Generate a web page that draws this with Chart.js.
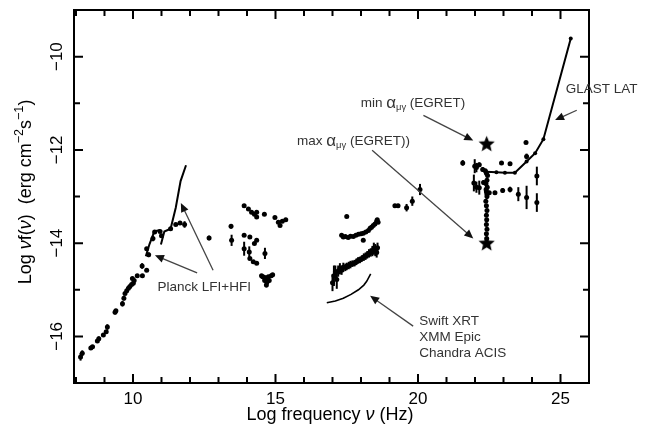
<!DOCTYPE html>
<html>
<head>
<meta charset="utf-8">
<script src="https://cdn.jsdelivr.net/npm/chart.js@4/dist/chart.umd.min.js"></script>
<style>
  html, body { margin: 0; padding: 0; background: #fff; }
</style>
</head>
<body>
<canvas id="sed" width="654" height="434"></canvas>
<script>
// SED of the source: log nu vs log nu f(nu)

// axes
const xMin = 7.93, xMax = 26.0;
const yMin = -17, yMax = -9;
const xTickLabels = [10, 15, 20, 25];
const yTickLabels = [-16, -14, -12, -10];

// radio / mm points
const radioX = [8.16, 8.22, 8.52, 8.58, 8.75, 8.80, 8.96, 9.06, 9.10, 9.37, 9.40, 9.63, 9.68, 9.72, 9.78, 9.84, 9.89, 9.95, 10.01, 10.04, 9.98, 10.15, 10.33, 10.32, 10.48, 10.55, 10.48, 10.70, 10.76, 10.95, 11.00, 11.32, 11.50, 11.65, 11.81];
const radioY = [-16.44, -16.36, -16.25, -16.22, -16.10, -16.05, -15.97, -15.90, -15.80, -15.48, -15.45, -15.30, -15.18, -15.08, -15.02, -14.97, -14.93, -14.89, -14.86, -14.80, -14.76, -14.70, -14.70, -14.49, -14.58, -14.25, -14.12, -13.90, -13.76, -13.75, -13.84, -13.69, -13.60, -13.57, -13.60];
const radioErr = [0.08, 0.06, 0, 0, 0, 0.05, 0, 0, 0.06, 0.05, 0, 0.06, 0.05, 0, 0, 0, 0, 0, 0, 0, 0, 0, 0, 0.06, 0, 0.05, 0, 0.06, 0, 0, 0, 0, 0, 0, 0.07];

// Planck sensitivity curves
const planckLfiX = [10.45, 10.58, 10.75, 10.95];
const planckLfiY = [-14.28, -14.02, -13.75, -13.72];
const planckHfiX = [10.98, 11.10, 11.32, 11.50, 11.67, 11.86];
const planckHfiY = [-14.03, -13.75, -13.69, -13.24, -12.67, -12.33];

// IR / optical / UV points
const optX = [12.67, 13.44, 13.46, 13.90, 14.05, 14.16, 14.26, 14.34, 14.34, 14.61, 14.98, 15.10, 15.24, 15.36, 15.16, 13.90, 14.10, 13.90, 14.08, 14.26, 14.34, 14.10, 14.22, 14.34, 14.63, 14.51, 14.60, 14.68, 14.75, 14.85, 14.62, 14.70, 14.78, 14.68, 14.55, 14.90];
const optY = [-13.89, -13.64, -13.94, -13.20, -13.27, -13.34, -13.38, -13.34, -13.44, -13.38, -13.45, -13.55, -13.53, -13.50, -13.62, -13.83, -13.87, -14.12, -14.19, -14.01, -13.94, -14.33, -14.40, -14.43, -14.22, -14.70, -14.73, -14.75, -14.72, -14.70, -14.80, -14.84, -14.80, -14.90, -14.72, -14.68];
const optErr = [0.05, 0.05, 0.12, 0, 0, 0, 0, 0, 0, 0, 0, 0, 0, 0, 0, 0, 0, 0.15, 0.12, 0, 0, 0, 0, 0, 0.12, 0, 0, 0, 0, 0, 0, 0, 0, 0.05, 0, 0];

// X-ray, upper state
const xhiX = [17.50, 17.32, 17.38, 17.45, 17.55, 17.63, 17.73, 17.82, 17.91, 18.00, 18.08, 18.17, 18.26, 18.32, 18.37, 18.43, 18.49, 18.55, 18.57, 18.60, 18.08];
const xhiY = [-13.43, -13.83, -13.87, -13.86, -13.88, -13.85, -13.86, -13.83, -13.81, -13.80, -13.79, -13.76, -13.73, -13.68, -13.66, -13.62, -13.59, -13.53, -13.50, -13.55, -13.94];

// X-ray, lower state
const xloX = [17.00, 17.05, 17.10, 17.15, 17.20, 17.26, 17.32, 17.38, 17.45, 17.50, 17.57, 17.63, 17.70, 17.77, 17.84, 17.90, 17.96, 18.03, 18.10, 18.16, 18.22, 18.28, 18.34, 18.40, 18.45, 18.50, 18.55, 18.58];
const xloY = [-14.85, -14.70, -14.62, -14.78, -14.60, -14.55, -14.58, -14.52, -14.52, -14.50, -14.48, -14.46, -14.44, -14.43, -14.40, -14.37, -14.36, -14.33, -14.30, -14.28, -14.25, -14.22, -14.20, -14.17, -14.12, -14.15, -14.20, -14.10];
const xloErr = [0.18, 0.22, 0.14, 0.20, 0.12, 0.12, 0.10, 0.10, 0.08, 0.08, 0.08, 0.08, 0.07, 0.07, 0.07, 0.07, 0.07, 0.07, 0.08, 0.08, 0.08, 0.09, 0.09, 0.11, 0.13, 0.13, 0.11, 0.11];

// Swift XRT / XMM / Chandra sensitivity
const xsensX = [16.80, 17.10, 17.38, 17.65, 17.91, 18.10, 18.20, 18.34];
const xsensY = [-15.28, -15.24, -15.18, -15.10, -15.00, -14.90, -14.82, -14.66];

// hard X-ray points
const hxX = [19.19, 19.30, 19.60, 19.80, 20.07];
const hxY = [-13.20, -13.20, -13.24, -13.10, -12.85];
const hxErr = [0.04, 0.04, 0.08, 0.10, 0.12];

// gamma-ray points
const gamX = [21.57, 21.99, 22.05, 22.15, 22.27, 21.96, 22.05, 22.15, 22.30, 22.50, 22.70, 22.97, 23.23, 23.52, 23.81, 24.17, 24.17, 22.93, 23.23, 23.79, 23.81];
const gamY = [-12.28, -12.35, -12.38, -12.32, -12.42, -12.71, -12.80, -12.81, -12.70, -12.92, -12.92, -12.87, -12.85, -12.95, -13.02, -12.56, -13.13, -12.28, -12.30, -11.84, -12.14];
const gamErr = [0.06, 0.15, 0.10, 0.05, 0.05, 0.18, 0.12, 0.15, 0.05, 0, 0, 0.05, 0.06, 0.15, 0.25, 0.2, 0.2, 0, 0, 0, 0.06];

// EGRET vertical chain
const chainX = [22.36, 22.40, 22.44, 22.42, 22.38, 22.43, 22.40, 22.42, 22.38, 22.40, 22.42, 22.40, 22.41, 22.40, 22.42, 22.40, 22.41, 22.39, 22.42];
const chainY = [-12.45, -12.50, -12.55, -12.65, -12.72, -12.80, -12.90, -13.00, -13.10, -13.20, -13.30, -13.40, -13.50, -13.60, -13.70, -13.80, -13.90, -12.85, -12.95];
const chainErr = [0, 0, 0, 0.06, 0.05, 0.08, 0.05, 0.04, 0.04, 0.04, 0.04, 0.04, 0.04, 0.04, 0.04, 0.04, 0.04, 0.1, 0.1];

// GLAST LAT sensitivity
const glastX = [22.39, 22.75, 23.05, 23.40, 23.81, 24.11, 24.40, 25.36];
const glastY = [-12.47, -12.48, -12.49, -12.49, -12.25, -12.07, -11.77, -9.61];

// EGRET min / max alpha stars
const starX = [22.41, 22.41];
const starY = [-11.88, -14.01];

// arrows: [fromX, fromY, toX, toY]
const arrows = [
  [20.19, -11.26, 21.94, -11.80],
  [18.39, -12.01, 21.94, -13.90],
  [25.57, -11.15, 24.81, -11.36],
  [19.83, -15.78, 18.32, -15.13],
  [12.81, -14.58, 11.68, -13.14],
  [12.25, -14.64, 10.77, -14.26]
];

function pts(xs, ys) {
  return xs.map((x, i) => ({ x: x, y: ys[i] }));
}

const FONT = '"Liberation Sans", Arial, Helvetica, sans-serif';

function makeStar(r) {
  const c = document.createElement('canvas');
  const s = Math.ceil(r * 2 + 2);
  c.width = s; c.height = s;
  const g = c.getContext('2d');
  g.fillStyle = '#000';
  g.beginPath();
  for (let i = 0; i < 10; i++) {
    const rr = i % 2 === 0 ? r : r * 0.45;
    const a = -Math.PI / 2 + i * Math.PI / 5;
    const px = s / 2 + rr * Math.cos(a), py = s / 2 + rr * Math.sin(a);
    if (i === 0) g.moveTo(px, py); else g.lineTo(px, py);
  }
  g.closePath();
  g.fill();
  return c;
}
const starImg = makeStar(8.5);

function dots(data, err) {
  return { data: data, yErr: err, pointRadius: 2.5, pointBackgroundColor: '#000', pointBorderWidth: 0, showLine: false };
}
function curve(data, r) {
  return { data: data, showLine: true, borderColor: '#000', borderWidth: 2, pointRadius: r || 0, pointBackgroundColor: '#000', pointBorderWidth: 0, tension: 0 };
}

// rich text: parts = [text, sizeScale, dy, italic]
function drawRich(ctx, parts, x, y, size, align) {
  let w = 0;
  const font = p => (p[3] ? 'italic ' : '') + (size * (p[1] || 1)) + 'px ' + FONT;
  parts.forEach(p => { ctx.font = font(p); w += ctx.measureText(p[0]).width; });
  let cx = align === 'right' ? x - w : align === 'center' ? x - w / 2 : x;
  parts.forEach(p => {
    ctx.font = font(p);
    ctx.fillText(p[0], cx, y + (p[2] || 0));
    cx += ctx.measureText(p[0]).width;
  });
}

const axesPlugin = {
  id: 'axesPlugin',
  afterDatasetsDraw(chart) {
    const ctx = chart.ctx;
    const xs = chart.scales.x, ys = chart.scales.y;

    // error bars
    ctx.save();
    ctx.strokeStyle = '#000';
    ctx.lineWidth = 2;
    chart.data.datasets.forEach(ds => {
      if (!ds.yErr) return;
      ds.data.forEach((p, i) => {
        const e = ds.yErr[i];
        if (!e) return;
        const px = xs.getPixelForValue(p.x);
        ctx.beginPath();
        ctx.moveTo(px, ys.getPixelForValue(p.y - e));
        ctx.lineTo(px, ys.getPixelForValue(p.y + e));
        ctx.stroke();
      });
    });
    ctx.restore();
  },
  afterDraw(chart) {
    const ctx = chart.ctx;
    const xs = chart.scales.x, ys = chart.scales.y;
    const a = chart.chartArea;
    ctx.save();

    // arrows
    arrows.forEach(ar => {
      const x0 = xs.getPixelForValue(ar[0]), y0 = ys.getPixelForValue(ar[1]);
      const x1 = xs.getPixelForValue(ar[2]), y1 = ys.getPixelForValue(ar[3]);
      const ang = Math.atan2(y1 - y0, x1 - x0);
      const hl = 9, hw = 4;
      ctx.strokeStyle = '#444';
      ctx.lineWidth = 1.3;
      ctx.beginPath();
      ctx.moveTo(x0, y0);
      ctx.lineTo(x1 - Math.cos(ang) * hl * 0.8, y1 - Math.sin(ang) * hl * 0.8);
      ctx.stroke();
      ctx.fillStyle = '#111';
      ctx.beginPath();
      ctx.moveTo(x1, y1);
      ctx.lineTo(x1 - Math.cos(ang) * hl - Math.sin(ang) * hw, y1 - Math.sin(ang) * hl + Math.cos(ang) * hw);
      ctx.lineTo(x1 - Math.cos(ang) * hl + Math.sin(ang) * hw, y1 - Math.sin(ang) * hl - Math.cos(ang) * hw);
      ctx.closePath();
      ctx.fill();
    });

    // frame
    ctx.strokeStyle = '#000';
    ctx.lineWidth = 2;
    ctx.strokeRect(a.left, a.top, a.right - a.left, a.bottom - a.top);

    // ticks (inward, on all four sides)
    for (let v = 8; v <= 25; v++) {
      const px = xs.getPixelForValue(v);
      const len = v % 5 === 0 ? 9 : 6;
      ctx.beginPath();
      ctx.moveTo(px, a.bottom); ctx.lineTo(px, a.bottom - len);
      ctx.moveTo(px, a.top); ctx.lineTo(px, a.top + len);
      ctx.stroke();
    }
    for (let v = -16; v <= -10; v++) {
      const py = ys.getPixelForValue(v);
      const len = v % 2 === 0 ? 9 : 6;
      ctx.beginPath();
      ctx.moveTo(a.left, py); ctx.lineTo(a.left + len, py);
      ctx.moveTo(a.right, py); ctx.lineTo(a.right - len, py);
      ctx.stroke();
    }

    // tick labels
    ctx.fillStyle = '#000';
    ctx.font = '17px ' + FONT;
    ctx.textBaseline = 'middle';
    ctx.textAlign = 'center';
    xTickLabels.forEach(v => ctx.fillText(String(v), xs.getPixelForValue(v), 399));
    yTickLabels.forEach(v => {
      ctx.save();
      ctx.translate(57, ys.getPixelForValue(v));
      ctx.rotate(-Math.PI / 2);
      ctx.fillText('\u2212' + Math.abs(v), 0, 0);
      ctx.restore();
    });

    // axis titles
    ctx.textAlign = 'left';
    drawRich(ctx, [['Log frequency '], ['\u03bd', 1, 0, true], [' (Hz)']], 330, 415, 18, 'center');
    ctx.save();
    ctx.translate(26, 192);
    ctx.rotate(-Math.PI / 2);
    drawRich(ctx, [['Log '], ['\u03bd', 1, 0, true], ['f('], ['\u03bd', 1, 0, true], [')  (erg cm'], ['\u22122', 0.7, -6], ['s'], ['\u22121', 0.7, -6], [')']], 0, 0, 18, 'center');
    ctx.restore();

    // annotation labels
    ctx.fillStyle = '#333';
    const L = (x, y) => [xs.getPixelForValue(x), ys.getPixelForValue(y)];
    let p;
    p = L(10.86, -14.94);
    drawRich(ctx, [['Planck LFI+HFI']], p[0], p[1], 13.5, 'left');
    p = L(17.99, -11.01);
    drawRich(ctx, [['min '], ['\u03b1', 1.25, 0], ['\u03bc\u03b3', 0.7, 4], [' (EGRET)']], p[0], p[1], 13.5, 'left');
    p = L(19.72, -11.82);
    drawRich(ctx, [['max '], ['\u03b1', 1.25, 0], ['\u03bc\u03b3', 0.7, 4], [' (EGRET))']], p[0], p[1], 13.5, 'right');
    p = L(25.18, -10.71);
    drawRich(ctx, [['GLAST LAT']], p[0], p[1], 13.5, 'left');
    p = L(20.04, -15.67);
    drawRich(ctx, [['Swift XRT']], p[0], p[1], 13.5, 'left');
    p = L(20.04, -16.02);
    drawRich(ctx, [['XMM Epic']], p[0], p[1], 13.5, 'left');
    p = L(20.04, -16.36);
    drawRich(ctx, [['Chandra ACIS']], p[0], p[1], 13.5, 'left');

    ctx.restore();
  }
};

new Chart(document.getElementById('sed'), {
  type: 'scatter',
  data: {
    datasets: [
      dots(pts(radioX, radioY), radioErr),
      curve(pts(planckLfiX, planckLfiY)),
      curve(pts(planckHfiX, planckHfiY)),
      dots(pts(optX, optY), optErr),
      dots(pts(xhiX, xhiY)),
      dots(pts(xloX, xloY), xloErr),
      Object.assign(curve(pts(xsensX, xsensY)), { borderWidth: 1.6 }),
      dots(pts(hxX, hxY), hxErr),
      dots(pts(gamX, gamY), gamErr),
      dots(pts(chainX, chainY), chainErr),
      curve(pts(glastX, glastY), 2),
      { data: pts(starX, starY), pointStyle: starImg, pointRadius: 9, showLine: false }
    ]
  },
  options: {
    responsive: false,
    devicePixelRatio: 1,
    animation: false,
    layout: { padding: { left: 74, top: 6, right: 65, bottom: 51 } },
    plugins: { legend: { display: false }, tooltip: { enabled: false } },
    scales: {
      x: { type: 'linear', min: xMin, max: xMax, display: false },
      y: { type: 'linear', min: yMin, max: yMax, display: false }
    }
  },
  plugins: [axesPlugin]
});
</script>
</body>
</html>
